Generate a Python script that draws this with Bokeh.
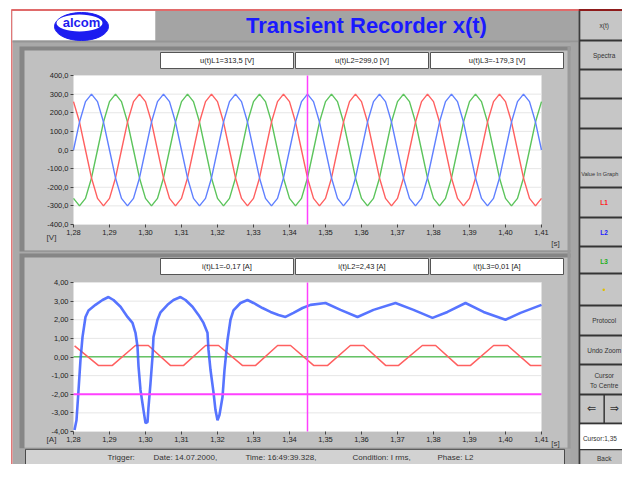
from bokeh.plotting import figure
from bokeh.models import Range1d, LinearAxis, FixedTicker, CustomJSTickFormatter
from bokeh.embed import file_html
from bokeh.resources import INLINE
from bokeh.core.properties import value

# ---------------- data ----------------
# upper chart: phase voltages u(t) [V]
u_time = [1.28000, 1.28167, 1.28333, 1.28500, 1.28667, 1.28833,
          1.29000, 1.29167, 1.29333, 1.29500, 1.29667, 1.29833,
          1.30000, 1.30167, 1.30333, 1.30500, 1.30667, 1.30833,
          1.31000, 1.31167, 1.31333, 1.31500, 1.31667, 1.31833,
          1.32000, 1.32167, 1.32333, 1.32500, 1.32667, 1.32833,
          1.33000, 1.33167, 1.33333, 1.33500, 1.33667, 1.33833,
          1.34000, 1.34167, 1.34333, 1.34500, 1.34667, 1.34833,
          1.35000, 1.35167, 1.35333, 1.35500, 1.35667, 1.35833,
          1.36000, 1.36167, 1.36333, 1.36500, 1.36667, 1.36833,
          1.37000, 1.37167, 1.37333, 1.37500, 1.37667, 1.37833,
          1.38000, 1.38167, 1.38333, 1.38500, 1.38667, 1.38833,
          1.39000, 1.39167, 1.39333, 1.39500, 1.39667, 1.39833,
          1.40000, 1.40167, 1.40333, 1.40500, 1.40667, 1.40833,
          1.41000]
u_red = [260, 150, 0, -150, -260, -300, -260, -150, 0, 150, 260, 300,
         260, 150, 0, -150, -260, -300, -260, -150, 0, 150, 260, 300,
         260, 150, 0, -150, -260, -300, -260, -150, 0, 150, 260, 300,
         260, 150, 0, -150, -260, -300, -260, -150, 0, 150, 260, 300,
         260, 150, 0, -150, -260, -300, -260, -150, 0, 150, 260, 300,
         260, 150, 0, -150, -260, -300, -260, -150, 0, 150, 260, 300,
         260, 150, 0, -150, -260, -300, -260]
u_blue = [0, 150, 260, 300, 260, 150, 0, -150, -260, -300, -260, -150,
          0, 150, 260, 300, 260, 150, 0, -150, -260, -300, -260, -150,
          0, 150, 260, 300, 260, 150, 0, -150, -260, -300, -260, -150,
          0, 150, 260, 300, 260, 150, 0, -150, -260, -300, -260, -150,
          0, 150, 260, 300, 260, 150, 0, -150, -260, -300, -260, -150,
          0, 150, 260, 300, 260, 150, 0, -150, -260, -300, -260, -150,
          0, 150, 260, 300, 260, 150, 0]
u_green = [-260, -300, -260, -150, 0, 150, 260, 300, 260, 150, 0, -150,
           -260, -300, -260, -150, 0, 150, 260, 300, 260, 150, 0, -150,
           -260, -300, -260, -150, 0, 150, 260, 300, 260, 150, 0, -150,
           -260, -300, -260, -150, 0, 150, 260, 300, 260, 150, 0, -150,
           -260, -300, -260, -150, 0, 150, 260, 300, 260, 150, 0, -150,
           -260, -300, -260, -150, 0, 150, 260, 300, 260, 150, 0, -150,
           -260, -300, -260, -150, 0, 150, 260]

# lower chart: currents i(t) [A]
i_red_t = [1.2803, 1.2869, 1.2908, 1.2972, 1.3008, 1.3069, 1.3106, 1.3167, 1.3203,
           1.3269, 1.3306, 1.3367, 1.3403, 1.3467, 1.3506, 1.3569, 1.3606, 1.3667,
           1.3703, 1.3769, 1.3806, 1.3867, 1.3903, 1.3967, 1.4006, 1.4069, 1.4100]
i_red = [0.60, -0.45, -0.45, 0.62, 0.62, -0.45, -0.45, 0.62, 0.62,
         -0.45, -0.45, 0.62, 0.62, -0.45, -0.45, 0.62, 0.62, -0.45,
         -0.45, 0.62, 0.62, -0.45, -0.45, 0.62, 0.62, -0.45, -0.45]
i_blue_t = [1.28028, 1.28083, 1.28139, 1.28194, 1.28250, 1.28333, 1.28417, 1.28611,
            1.28806, 1.28972, 1.29111, 1.29306, 1.29500, 1.29639, 1.29722, 1.29778,
            1.29806, 1.29861, 1.29944, 1.30000, 1.30056, 1.30083, 1.30139, 1.30194,
            1.30222, 1.30333, 1.30417, 1.30611, 1.30778, 1.30972, 1.31111, 1.31306,
            1.31472, 1.31611, 1.31722, 1.31750, 1.31806, 1.31889, 1.31944, 1.32000,
            1.32056, 1.32139, 1.32194, 1.32278, 1.32361, 1.32444, 1.32639, 1.32833,
            1.33000, 1.33250, 1.33472, 1.33694, 1.33889, 1.34111, 1.34361, 1.34583,
            1.35000, 1.35417, 1.35889, 1.36333, 1.36944, 1.37444, 1.37972, 1.38389,
            1.38889, 1.39389, 1.40000, 1.40417, 1.41000]
i_blue = [-3.92, -3.40, -1.80, -0.15, 1.07, 2.15, 2.50, 2.80,
          3.06, 3.22, 3.06, 2.70, 2.15, 1.83, 1.30, 0.55,
          -0.50, -1.77, -2.85, -3.55, -3.50, -2.70, -1.40, 0.00,
          1.07, 2.00, 2.40, 2.80, 3.06, 3.22, 3.06, 2.70,
          2.26, 1.83, 1.30, 0.38, -0.70, -1.90, -2.85, -3.40,
          -3.10, -2.15, -0.70, 0.90, 2.00, 2.50, 2.90, 3.06,
          2.90, 2.63, 2.42, 2.26, 2.15, 2.37, 2.63, 2.80,
          2.90, 2.53, 2.15, 2.53, 2.90, 2.53, 2.10, 2.42,
          2.90, 2.42, 2.00, 2.37, 2.80]
i_green_t = [1.28, 1.41]
i_green = [0.01, 0.01]

cursor_t = 1.345
i_limit = -2.0

t_ticks = [1.28, 1.29, 1.30, 1.31, 1.32, 1.33, 1.34, 1.35, 1.36, 1.37, 1.38, 1.39, 1.40, 1.41]
u_ticks = [-400, -300, -200, -100, 0, 100, 200, 300, 400]
i_ticks = [-4, -3, -2, -1, 0, 1, 2, 3, 4]

u_boxes = ["u(t)L1=313,5 [V]", "u(t)L2=299,0 [V]", "u(t)L3=-179,3 [V]"]
i_boxes = ["i(t)L1=-0,17 [A]", "i(t)L2=2,43 [A]", "i(t)L3=0,01 [A]"]
title_text = "Transient Recorder x(t)"
status_parts = ["Trigger:", "Date: 14.07.2000,", "Time: 16:49:39.328,", "Condition: I rms,", "Phase: L2"]

# ---------------- canvas (screen pixel coordinates) ----------------
W, H = 622, 464
p = figure(width=W, height=H, x_range=Range1d(0, W), y_range=Range1d(H, 0),
           x_axis_type=None, y_axis_type=None, min_border=0, toolbar_location=None,
           output_backend="svg", outline_line_color=None,
           background_fill_color="white", border_fill_color="white")


def SX(x):
    # squeeze the right-hand button column into the available width
    return x if x <= 578 else 578 + (x - 578) * (W - 578) / (638 - 578)


def SY(y):
    # squeeze the strip below the lower chart into the available height
    return y if y <= 431 else 431 + (y - 431) * (H - 431) / (480 - 431)


def lin_range(va, pa, vb, pb, plo, phi):
    k = (vb - va) / (pb - pa)
    return Range1d(start=va + (plo - pa) * k, end=va + (phi - pa) * k)


p.extra_x_ranges = {"t": lin_range(1.28, 73, 1.41, 541, 0, W)}
p.extra_y_ranges = {"u": lin_range(400, 75, -400, 224, H, 0),
                    "i": lin_range(4, 282, -4, 431, H, 0)}

FONT = value("Liberation Sans")


def box(l, r, t, b, color, line=None):
    p.quad(left=SX(l), right=SX(r), top=SY(t), bottom=SY(b), fill_color=color,
           line_color=line, line_width=1)


def txt(x, y, s, size="7.5px", color="#222222", align="center", bold=False, font=FONT):
    p.text(x=[SX(x)], y=[SY(y)], text=[s], text_font=font, text_font_size=size,
           text_color=color, text_align=align, text_baseline="middle",
           text_font_style="bold" if bold else "normal")


# window chrome
box(12, 640, 10, 480, "#a9a9a9")
box(10.5, 12, 9, 480, "#e07878")
box(11, 578, 8.5, 10.5, "#e06a6a")
box(578, 640, 8.5, 10.5, "#8e1b1b")
box(12, 155, 10.5, 40, "white")
box(155, 578, 10.5, 40, "#a4a4a4")
box(12, 578, 40, 42, "#969696")

# logo
p.ellipse(x=[81], y=[26], width=54, height=28, fill_color="#1c1cf0", line_color="#1c1cf0")
p.ellipse(x=[79], y=[22.5], width=46, height=17, fill_color="white", line_color=None)
txt(81, 22, "alcom", size="13px", color="#1c1cf0", bold=True)
txt(366, 25, title_text, size="22px", color="#1a1aff", bold=True)

# panels
for top, bot in [(46, 251), (253, 456)]:
    box(19, 572, top, bot, "#868686")
    box(24, 570, top + 4, bot - 1, "#c0c0c0")
box(570, 578, 42, 480, "#a6a6a6")
box(567, 570, 46, 456, "#9a9a9a")

# status bar
box(25, 564, 457.5, 480, "#d2d2d2", line="#4a4a4a")
status_x = [107, 153, 245, 352, 437]
for sx, s in zip(status_x, status_parts):
    txt(sx, 469, s, size="8px", color="#333333", align="left")

# value boxes
for (l, r), s1, s2 in zip([(160, 293), (295, 428), (430, 563)], u_boxes, i_boxes):
    box(l, r, 52, 68, "white", line="#555555")
    txt((l + r) / 2, 60, s1)
    box(l, r, 258, 274, "white", line="#555555")
    txt((l + r) / 2, 266, s2)

# button column
box(578, 640, 10.5, 480, "#c6c6c6")
box(578, 580.5, 10.5, 480, "#3c3c3c")
for sy in [40, 69, 98, 128, 157, 187, 217, 246, 273, 305, 335, 364, 394, 423, 458]:
    box(580, 640, sy - 1, sy + 1, "#343434")
box(580.5, 640, 424, 457, "white")
box(612, 614, 394, 423, "#343434")
buttons = [(25, "x(t)", "#333333"), (55, "Spectra", "#333333"),
           (202, "L1", "#ff2020"), (232, "L2", "#2020ff"), (261, "L3", "#20b020"),
           (320, "Protocol", "#333333"), (350, "Undo Zoom", "#333333"),
           (375, "Cursor", "#333333"), (385, "To Centre", "#333333"), (471, "Back", "#333333")]
for by, s, c in buttons:
    txt(613, by, s, size="6.5px", color=c, bold=s.startswith("L"))
txt(607, 173, "Value In Graph", size="5.6px", color="#333333")
txt(584, 441, "Cursor:1,35", size="6.5px", color="#333333", align="left")
txt(613, 289, "•", size="9px", color="#e0c000")
txt(596, 408, "⇐", size="11px", color="#333333", font=value("DejaVu Sans"))
txt(627, 408, "⇒", size="11px", color="#333333", font=value("DejaVu Sans"))

# ---------------- charts ----------------
def chart(yname, lo, hi, yticks, y_fmt, unit, axis_y, unit_y, unit_s_y):
    p.quad(left=1.28, right=1.41, bottom=lo, top=hi, fill_color="white", line_color=None,
           x_range_name="t", y_range_name=yname)
    p.segment(x0=[1.28] * len(yticks), x1=[1.41] * len(yticks), y0=yticks, y1=yticks,
              line_color="#e6e6e6", line_width=1, x_range_name="t", y_range_name=yname)
    yax = LinearAxis(y_range_name=yname, fixed_location=73, bounds=(lo, hi),
                     ticker=FixedTicker(ticks=yticks),
                     formatter=CustomJSTickFormatter(code=y_fmt))
    xax = LinearAxis(x_range_name="t", fixed_location=axis_y, bounds=(1.28, 1.41),
                     ticker=FixedTicker(ticks=t_ticks),
                     formatter=CustomJSTickFormatter(code="return tick.toFixed(2).replace('.', ',')"))
    for ax in (yax, xax):
        ax.axis_line_color = None
        ax.major_tick_line_color = "#444444"
        ax.major_tick_in = 0
        ax.major_tick_out = 3
        ax.minor_tick_line_color = None
        ax.major_label_text_font = "Liberation Sans"
        ax.major_label_text_font_size = "7.5px"
        ax.major_label_text_color = "#222222"
        ax.major_label_standoff = 2
    p.add_layout(yax, "left")
    p.add_layout(xax, "below")
    txt(51, unit_y, unit, size="8px", color="#333333")
    txt(555, unit_s_y, "[s]", size="8px", color="#333333")


chart("u", -400, 400, u_ticks, "return tick.toFixed(1).replace('.', ',')", "[V]", 224, 237, 243)
chart("i", -4, 4, i_ticks, "return tick.toFixed(2).replace('.', ',')", "[A]", 431, 443, 449)

kw_u = dict(x_range_name="t", y_range_name="u", line_width=1.4)
p.line(u_time, u_green, line_color="#5cc45c", **kw_u)
p.line(u_time, u_red, line_color="#ff6060", **kw_u)
p.line(u_time, u_blue, line_color="#6080ff", **kw_u)
p.segment(x0=[cursor_t], x1=[cursor_t], y0=[-400], y1=[400], line_color="#ff40ff",
          line_width=1.5, x_range_name="t", y_range_name="u")

kw_i = dict(x_range_name="t", y_range_name="i")
p.line(i_green_t, i_green, line_color="#66c466", line_width=1.5, **kw_i)
p.line(i_red_t, i_red, line_color="#ff6060", line_width=1.5, **kw_i)
p.line(i_blue_t, i_blue, line_color="#3a5cff", line_width=2.6, line_alpha=0.85, **kw_i)
p.segment(x0=[1.28], x1=[1.41], y0=[i_limit], y1=[i_limit], line_color="#ff40ff",
          line_width=2, **kw_i)
p.segment(x0=[cursor_t], x1=[cursor_t], y0=[-4], y1=[4], line_color="#ff40ff",
          line_width=1.5, **kw_i)

open("out.html", "w").write(file_html(p, INLINE))
